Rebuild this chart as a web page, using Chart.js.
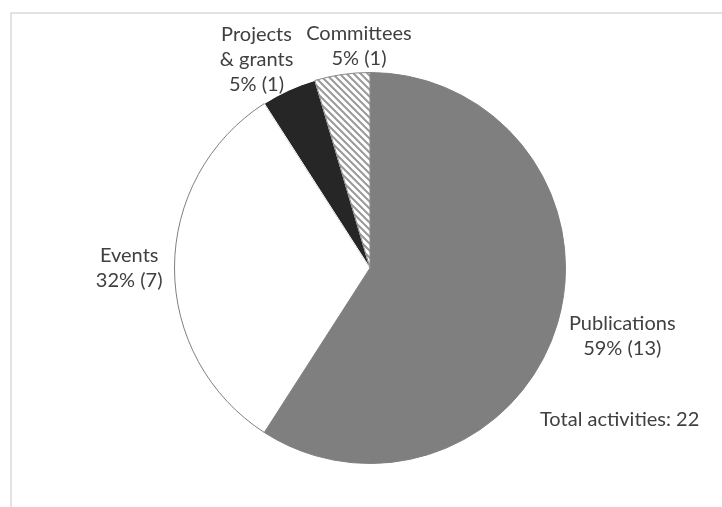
<!DOCTYPE html>
<html lang="en">
<head>
    <meta charset="UTF-8">
    <title>Activities</title>
    <style>
        body, html {
            margin: 0;
            padding: 0;
            background: #ffffff;
        }
        canvas {
            display: block;
        }
    </style>
    <script src="https://cdn.jsdelivr.net/npm/chart.js"></script>
</head>
<body>
    <canvas id="activityChart" width="722" height="507"></canvas>
    <script>
        // activity counts, drawn clockwise from twelve o'clock
        const categories = ['Publications', 'Events', 'Projects & grants', 'Committees'];
        const labelLines = [['Publications'], ['Events'], ['Projects', '& grants'], ['Committees']];
        const counts = [13, 7, 1, 1];

        const FONT = '20px Lato, "Open Sans", sans-serif';
        const TEXT = '#404040';
        const LINE_H = 25;

        // diagonal stripes for the committees slice
        function stripes() {
            const c = document.createElement('canvas');
            c.width = 7;
            c.height = 7;
            const g = c.getContext('2d');
            g.fillStyle = '#ffffff';
            g.fillRect(0, 0, 7, 7);
            g.strokeStyle = '#9a9a9a';
            g.lineWidth = 2;
            g.beginPath();
            g.moveTo(-2, -2); g.lineTo(9, 9);
            g.moveTo(-9, -2); g.lineTo(2, 9);
            g.moveTo(5, -2); g.lineTo(16, 9);
            g.stroke();
            return g.createPattern(c, 'repeat');
        }

        const ctx = document.getElementById('activityChart').getContext('2d');

        const framePlugin = {
            id: 'frame',
            beforeDraw(chart) {
                const g = chart.ctx;
                g.save();
                g.strokeStyle = '#d9d9d9';
                g.lineWidth = 1.5;
                g.strokeRect(11, 13, 760, 560);
                g.restore();
            }
        };

        // extra shifts so the labels of the two small slices sit side by side
        const nudges = [[2, 3], [0, 0], [-12, 14], [26, 8]];

        const labelPlugin = {
            id: 'sliceLabels',
            afterDatasetsDraw(chart) {
                const g = chart.ctx;
                const meta = chart.getDatasetMeta(0);
                const total = counts.reduce((a, b) => a + b, 0);
                g.save();
                g.font = FONT;
                g.fillStyle = TEXT;
                g.textAlign = 'center';
                g.textBaseline = 'middle';
                let cx = 0, cy = 0, r = 0;
                meta.data.forEach((arc, i) => {
                    cx = arc.x; cy = arc.y; r = arc.outerRadius;
                    const mid = (arc.startAngle + arc.endAngle) / 2;
                    const dx = Math.cos(mid), dy = Math.sin(mid);
                    const pct = Math.round(counts[i] / total * 100);
                    const lines = labelLines[i].concat([pct + '% (' + counts[i] + ')']);
                    const w = Math.max(...lines.map(t => g.measureText(t).width));
                    const h = lines.length * LINE_H;
                    const gap = 12;
                    const bx = arc.x + dx * (r + gap) + dx * w / 2 + nudges[i][0];
                    const by = arc.y + dy * (r + gap) + dy * h / 2 + nudges[i][1];
                    lines.forEach((t, k) => {
                        g.fillText(t, bx, by - h / 2 + LINE_H / 2 + k * LINE_H);
                    });
                });
                g.textAlign = 'left';
                g.fillText('Total activities: ' + total, cx + 170, cy + 152);
                g.restore();
            }
        };

        new Chart(ctx, {
            type: 'pie',
            data: {
                labels: categories,
                datasets: [{
                    data: counts,
                    backgroundColor: ['#7f7f7f', '#ffffff', '#262626', stripes()],
                    borderColor: ['#7f7f7f', '#7f7f7f', '#ffffff', '#8a8a8a'],
                    borderWidth: 1
                }]
            },
            options: {
                responsive: false,
                animation: false,
                layout: {
                    padding: { left: 174, right: 156, top: 72, bottom: 43 }
                },
                plugins: {
                    legend: { display: false },
                    tooltip: { enabled: false }
                }
            },
            plugins: [framePlugin, labelPlugin]
        });
    </script>
</body>
</html>
